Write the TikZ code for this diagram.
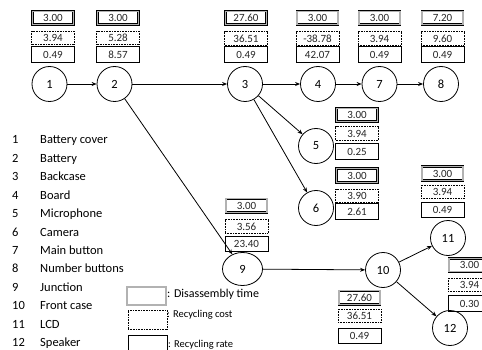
\documentclass[tikz,border=0pt]{standalone}
\usepackage{fontspec}
\setmainfont{Carlito}
\usetikzlibrary{arrows.meta,shapes.geometric}
\begin{document}
\begin{tikzpicture}[x=1pt,y=-1pt,
  part/.style={circle,draw,line width=0.8pt,minimum size=35pt,inner sep=0pt,font=\fontsize{12.5}{13}\selectfont},
  junction/.style={ellipse,draw,line width=0.8pt,minimum width=40pt,minimum height=33pt,inner sep=0pt,font=\fontsize{12.5}{13}\selectfont},
  val/.style={minimum width=43pt,inner sep=0pt,text=black!85,font=\fontsize{11}{12}\selectfont},
  tbox/.style={val,draw=black,line width=0.6pt,double=gray!60,double distance=1.3pt,minimum width=41pt,minimum height=13.5pt},
  cbox/.style={val,draw,line width=0.8pt,dash pattern=on 0.8pt off 0.8pt,minimum height=13.5pt},
  rbox/.style={val,draw,line width=0.8pt,minimum height=15.5pt},
  flow/.style={line width=0.8pt,-{Stealth[length=5pt,width=4pt]}},
  item/.style={anchor=base west,inner sep=0pt,font=\fontsize{12.5}{13}\selectfont},
  key/.style={anchor=west,inner sep=0pt}]
\clip (0,0) rectangle (482,350);
\useasboundingbox (0,0) rectangle (482,350);

% part nodes
\node[part] (n1) at (49.5,84) {1};
\node[part] (n2) at (114.5,84) {2};
\node[part] (n3) at (245,84) {3};
\node[part] (n4) at (318,84) {4};
\node[part] (n7) at (379.5,84) {7};
\node[part] (n8) at (441,84) {8};
\node[part] (n5) at (316,146) {5};
\node[part] (n6) at (316,208) {6};
\node[junction] (n9) at (242.5,269) {9};
\node[part] (n10) at (383,270) {10};
\node[part] (n11) at (448,238) {11};
\node[part] (n12) at (450,328) {12};

% value boxes: disassembly time / recycling cost / recycling rate
\foreach \id/\x/\ya/\yb/\yc/\ta/\tb/\tc in {
  1/53/18/38/54.5/3.00/3.94/0.49,
  2/118/18/38/54.5/3.00/5.28/8.57,
  3/246/18/38.5/54.5/27.60/36.51/0.49,
  4/317.5/18/38.5/54.5/3.00/-38.78/42.07,
  7/379.5/18/38.5/54.5/3.00/3.94/0.49,
  8/442.5/18/38.5/54.5/7.20/9.60/0.49,
  5/357/115/133.5/151.5/3.00/3.94/0.25,
  6/357/175.5/196/211.5/3.00/3.90/2.61,
  11/442.5/173.5/192/210/3.00/3.94/0.49,
  9/246.5/205.5/226.5/244/3.00/3.56/23.40,
  12/469.5/265/285/303.5/3.00/3.94/0.30,
  10/359.5/297.5/316/336/27.60/36.51/0.49}{
  \node[tbox] (t\id) at (\x,\ya) {\ta};
  \node[cbox] (c\id) at (\x,\yb) {\tb};
  \node[rbox] (r\id) at (\x,\yc) {\tc};
}

% disassembly sequence
\draw[flow] (n1) -- (n2);
\draw[flow] (n2) -- (n3);
\draw[flow] (n3) -- (n4);
\draw[flow] (n4) -- (n7);
\draw[flow] (n7) -- (n8);
\draw[flow] (n3) -- (n5);
\draw[flow] (n3) -- (n6);
\draw[flow] (n2) -- (n9);
\draw[flow] (n9) -- (n10);
\draw[flow] (n10) -- (n11);
\draw[flow] (n10) -- (n12);

% part list
\foreach \k/\name [count=\i from 0] in {1/Battery cover,2/Battery,3/Backcase,4/Board,5/Microphone,6/Camera,7/Main button,8/Number buttons,9/Junction,10/Front case,11/LCD,12/Speaker}{
  \node[item] (num\k) at (12,144+18.4*\i) {\k};
  \node[item] (lab\k) at (40,144+18.4*\i) {\name};
}

% legend
\node[tbox,minimum width=39pt,minimum height=18pt] (kt) at (146.5,296) {};
\node[cbox,minimum width=39pt,minimum height=19pt] (kc) at (147.5,319.5) {};
\node[rbox,minimum width=39pt,minimum height=19pt] (kr) at (147.5,344.5) {};
\node[key,font=\fontsize{12}{12}\selectfont] (ktl) at (167,294.5) {: Disassembly time};
\node[key,font=\fontsize{10.5}{11}\selectfont] (kcl) at (167,315) {: Recycling cost};
\node[key,font=\fontsize{10.5}{11}\selectfont] (krl) at (168,345) {: Recycling rate};
\end{tikzpicture}
\end{document}
